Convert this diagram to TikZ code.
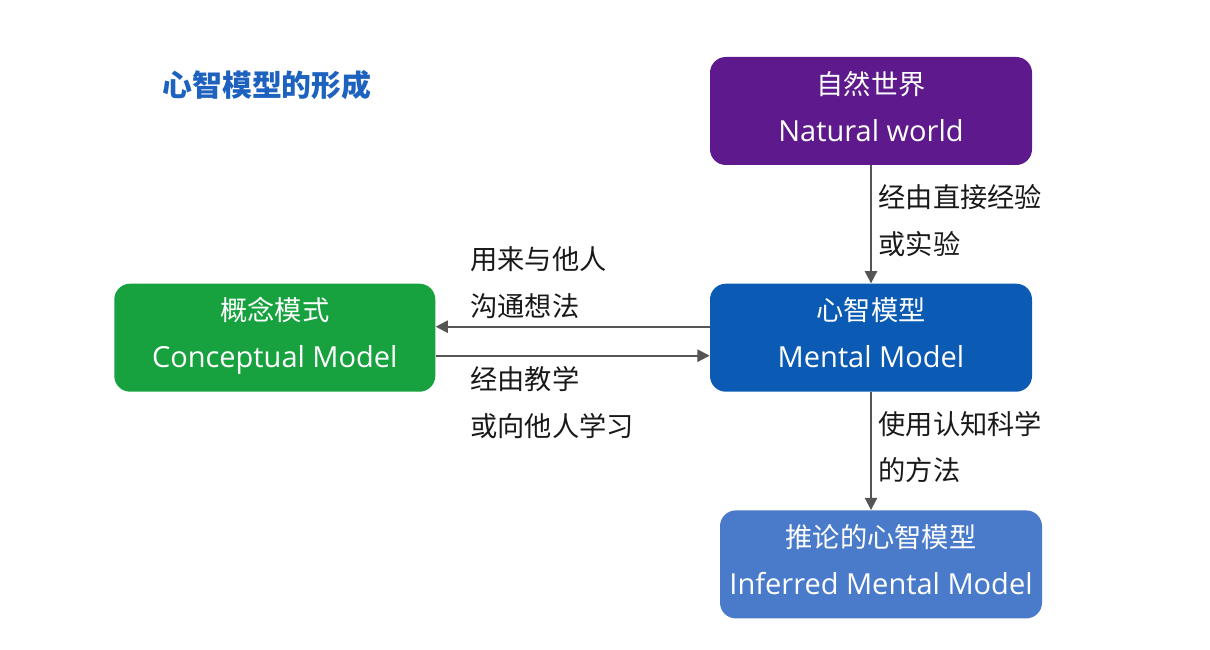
\documentclass[tikz,border=0pt]{standalone}
\usepackage{fontspec}
\setmainfont{Open Sans}
\newfontfamily\cjk{Noto Sans CJK SC}
\usetikzlibrary{arrows.meta, positioning}
\definecolor{natpurple}{HTML}{5E1A8C}
\definecolor{mentalblue}{HTML}{0B5AB3}
\definecolor{conceptgreen}{HTML}{18A23F}
\definecolor{inferblue}{HTML}{4A7BCB}
\definecolor{titleblue}{HTML}{1E62C0}
\definecolor{arrowgray}{HTML}{555555}
\newcommand{\zhline}[1]{{\cjk\fontsize{15.5}{26.7}\selectfont #1}}
\tikzset{
  mbox/.style={rectangle, rounded corners=9pt, fill=#1, text=white,
               minimum width=6.44cm, minimum height=2.16cm, align=center,
               text depth=0.2cm, font=\fontsize{16.5}{26.7}\selectfont},
  mbox/.default=mentalblue,
  lbl/.style={align=left, inner sep=1pt, text=black!90,
              font=\fontsize{15.5}{26.7}\selectfont\cjk},
  arr/.style={-{Triangle[length=7pt, width=7pt]}, line width=1.1pt, draw=arrowgray},
}

\begin{document}
\begin{tikzpicture}
  \useasboundingbox (0,0) rectangle (24.2,-13);
  % title
  \node[text=titleblue, font=\fontsize{17}{20}\selectfont\cjk\bfseries]
    (title) at (5.34,-1.7) {心智模型的形成};
  % boxes
  \node[mbox=natpurple] (natural) at (17.42,-2.22)
    {\zhline{自然世界}\\Natural world};
  \node[mbox, below=2.36cm of natural] (mental)
    {\zhline{心智模型}\\Mental Model};
  \node[mbox=conceptgreen, left=5.48cm of mental, minimum width=6.42cm] (concept)
    {\zhline{概念模式}\\Conceptual Model};
  \node[mbox=inferblue, below=2.36cm of mental, xshift=0.2cm] (inferred)
    {\zhline{推论的心智模型}\\Inferred Mental Model};
  % arrows
  \draw[arr] (natural) -- node[lbl, right, xshift=0.1cm, yshift=0.08cm]
    {经由直接经验\\或实验} (mental);
  \draw[arr] ([yshift=0.22cm]mental.west) -- ([yshift=0.22cm]concept.east)
    node[lbl, pos=1, anchor=south west, xshift=0.64cm, yshift=0.1cm]
    {用来与他人\\沟通想法};
  \draw[arr] ([yshift=-0.36cm]concept.east) -- ([yshift=-0.36cm]mental.west)
    node[lbl, pos=0, anchor=north west, xshift=0.64cm, yshift=-0.16cm]
    {经由教学\\或向他人学习};
  \draw[arr] (mental.south) -- node[lbl, right, xshift=0.1cm, yshift=0.08cm]
    {使用认知科学\\的方法} (mental.south |- inferred.north);
\end{tikzpicture}
\end{document}
